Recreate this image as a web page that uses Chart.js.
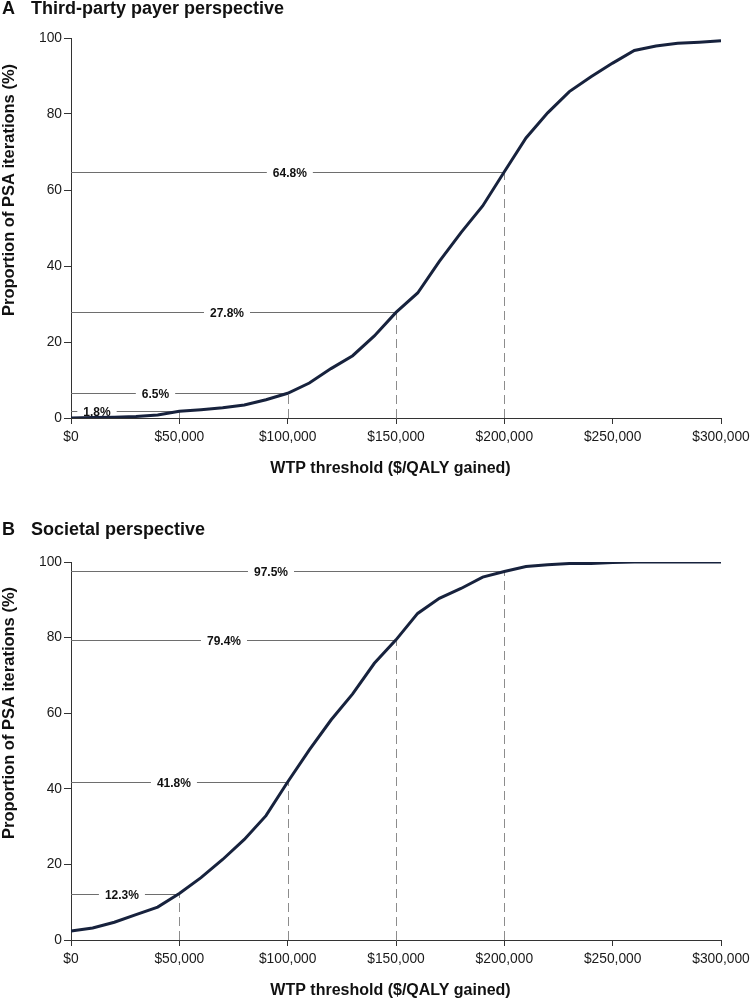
<!DOCTYPE html>
<html>
<head>
<meta charset="utf-8">
<script src="https://cdn.jsdelivr.net/npm/chart.js@4.4.1/dist/chart.umd.min.js"></script>
<style>
body { margin: 0; background: #fff; }
canvas { display: block; }
</style>
</head>
<body>
<canvas id="payerChart" width="750" height="500"></canvas>
<canvas id="societalChart" width="750" height="502"></canvas>
<script>
// WTP thresholds ($/QALY gained)
const wtp = [0, 10000, 20000, 30000, 40000, 50000, 60000, 70000, 80000, 90000,
    100000, 110000, 120000, 130000, 140000, 150000, 160000, 170000, 180000, 190000,
    200000, 210000, 220000, 230000, 240000, 250000, 260000, 270000, 280000, 290000, 300000];

// Proportion of PSA iterations cost-effective (%)
const payerValues = [0, 0.1, 0.2, 0.4, 0.8, 1.8, 2.2, 2.7, 3.4, 4.8,
    6.5, 9.2, 13.0, 16.4, 21.6, 27.8, 32.9, 41.2, 48.8, 55.8,
    64.8, 73.7, 80.3, 85.9, 89.8, 93.4, 96.7, 97.9, 98.6, 98.9, 99.3];
const societalValues = [2.4, 3.2, 4.7, 6.7, 8.7, 12.3, 16.5, 21.3, 26.6, 32.9,
    41.8, 50.3, 58.2, 65.1, 73.2, 79.4, 86.4, 90.4, 93.0, 96.0,
    97.5, 98.8, 99.3, 99.6, 99.6, 99.9, 100, 100, 100, 100, 100];

// marked thresholds
const thresholds = [50000, 100000, 150000, 200000];
const payerAtThreshold = [1.8, 6.5, 27.8, 64.8];
const societalAtThreshold = [12.3, 41.8, 79.4, 97.5];

const xTicks = [0, 50000, 100000, 150000, 200000, 250000, 300000];
const yTicks = [0, 20, 40, 60, 80, 100];

const FONT = '"Liberation Sans", Arial, Helvetica, sans-serif';
const LINE_COLOR = '#17223d';

// horizontal + dashed reference lines with value labels
const markerPlugin = {
    id: 'markers',
    beforeDatasetsDraw(chart, args, opts) {
        const { ctx, chartArea, scales: { x, y } } = chart;
        ctx.save();
        opts.values.forEach((v, i) => {
            const px = Math.round(x.getPixelForValue(opts.thresholds[i])) + 0.5;
            const py = Math.round(y.getPixelForValue(v)) + 0.5;

            ctx.strokeStyle = '#6e6e6e';
            ctx.lineWidth = 1;
            ctx.setLineDash([]);
            ctx.beginPath();
            ctx.moveTo(chartArea.left, py);
            ctx.lineTo(px, py);
            ctx.stroke();

            ctx.strokeStyle = '#8c8c8c';
            ctx.setLineDash([9, 5]);
            ctx.beginPath();
            ctx.moveTo(px, chartArea.bottom);
            ctx.lineTo(px, py);
            ctx.stroke();

            // label with white box
            const text = v.toFixed(1) + '%';
            ctx.setLineDash([]);
            ctx.font = 'bold 12px ' + FONT;
            const w = ctx.measureText(text).width;
            const lx = x.getPixelForValue(opts.labelAt[i]);
            ctx.fillStyle = '#fff';
            ctx.fillRect(lx - w / 2 - 6, py - 6, w + 12, 12);
            ctx.fillStyle = '#111';
            ctx.textAlign = 'center';
            ctx.textBaseline = 'middle';
            ctx.fillText(text, lx, py + 1);
        });
        ctx.restore();
    }
};

// panel title and axis titles
const titlesPlugin = {
    id: 'titles',
    afterDraw(chart, args, opts) {
        const { ctx, chartArea } = chart;
        ctx.save();
        ctx.fillStyle = '#111';
        ctx.textBaseline = 'alphabetic';
        ctx.textAlign = 'left';
        ctx.font = 'bold 18px ' + FONT;
        ctx.fillText(opts.panel, 2, opts.titleBaseline);
        ctx.fillText(opts.title, 31, opts.titleBaseline);

        ctx.font = 'bold 16px ' + FONT;
        ctx.textAlign = 'center';
        ctx.textBaseline = 'middle';
        ctx.fillText('WTP threshold ($/QALY gained)', (chartArea.left + chartArea.right) / 2 - 5.5, chartArea.bottom + 51);

        ctx.font = 'bold 16.5px ' + FONT;
        ctx.translate(9, (chartArea.top + chartArea.bottom) / 2 - 38);
        ctx.rotate(-Math.PI / 2);
        ctx.fillText('Proportion of PSA iterations (%)', 0, 0);
        ctx.restore();
    }
};

function makeChart(id, values, atThreshold, labelAt, panel, title, titleBaseline, padTop, xHeight) {
    const ctx = document.getElementById(id).getContext('2d');
    return new Chart(ctx, {
        type: 'line',
        data: {
            datasets: [{
                data: wtp.map((w, i) => ({ x: w, y: values[i] })),
                borderColor: LINE_COLOR,
                borderWidth: 3,
                pointRadius: 0,
                tension: 0,
                fill: false
            }]
        },
        options: {
            responsive: false,
            animation: false,
            devicePixelRatio: 1,
            layout: { padding: { top: padTop, right: 29, bottom: 0, left: 0 } },
            plugins: {
                legend: { display: false },
                tooltip: { enabled: false },
                markers: { thresholds: thresholds, values: atThreshold, labelAt: labelAt },
                titles: { panel: panel, title: title, titleBaseline: titleBaseline }
            },
            scales: {
                x: {
                    type: 'linear',
                    min: 0,
                    max: 300000,
                    afterBuildTicks: scale => { scale.ticks = xTicks.map(v => ({ value: v })); },
                    afterFit: scale => {
                        scale.height = xHeight;
                        scale.paddingLeft = 0;
                        scale.paddingRight = 0;
                    },
                    ticks: {
                        autoSkip: false,
                        maxRotation: 0,
                        padding: 5,
                        color: '#1a1a1a',
                        font: { family: FONT, size: 13.8 },
                        callback: v => '$' + v.toLocaleString('en-US')
                    },
                    grid: { drawOnChartArea: false, drawTicks: true, tickLength: 6, color: '#333' },
                    border: { display: true, color: '#333', width: 1 }
                },
                y: {
                    min: 0,
                    max: 100,
                    afterBuildTicks: scale => { scale.ticks = yTicks.map(v => ({ value: v })); },
                    afterFit: scale => { scale.width = 71; },
                    ticks: {
                        padding: 2,
                        color: '#1a1a1a',
                        font: { family: FONT, size: 13.8 }
                    },
                    grid: { drawOnChartArea: false, drawTicks: true, tickLength: 7, color: '#333' },
                    border: { display: true, color: '#333', width: 1 }
                }
            }
        },
        plugins: [markerPlugin, titlesPlugin]
    });
}

makeChart('payerChart', payerValues, payerAtThreshold, [12000, 39000, 72000, 101000],
    'A', 'Third-party payer perspective', 14, 38, 82);
makeChart('societalChart', societalValues, societalAtThreshold, [23500, 47500, 70600, 92300],
    'B', 'Societal perspective', 35, 62, 62);
</script>
</body>
</html>
